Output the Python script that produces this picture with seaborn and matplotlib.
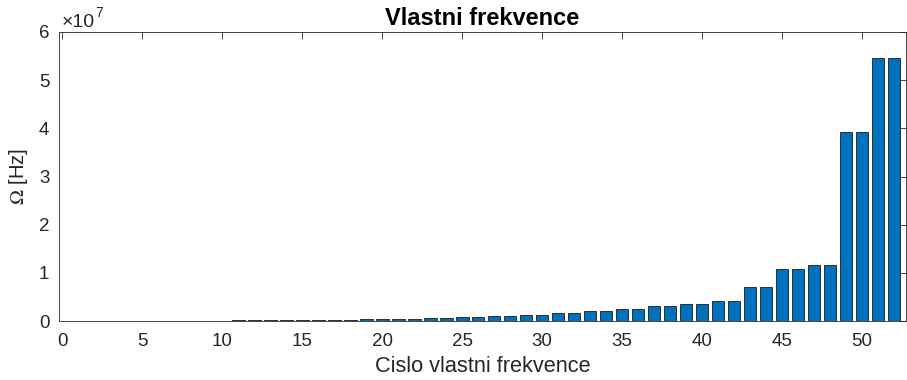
import numpy as np
import pandas as pd
import matplotlib
matplotlib.use("Agg")
import matplotlib.pyplot as plt
import matplotlib.transforms as mtransforms
import seaborn as sns
from matplotlib.ticker import FuncFormatter, MultipleLocator

# Natural frequencies, sorted ascending (Hz)
mode_index = list(range(1, 53))
freq_hz = [
    5.0e3, 5.0e3, 1.5e4, 1.5e4, 3.0e4, 3.0e4, 5.0e4, 5.0e4,
    8.0e4, 8.0e4, 1.2e5, 1.2e5, 1.7e5, 1.7e5, 2.2e5, 2.2e5,
    2.8e5, 2.8e5, 3.5e5, 3.5e5, 4.1e5, 4.1e5, 6.2e5, 6.2e5,
    7.6e5, 7.6e5, 1.10e6, 1.10e6, 1.18e6, 1.18e6, 1.60e6, 1.60e6,
    2.07e6, 2.07e6, 2.50e6, 2.50e6, 3.10e6, 3.10e6, 3.53e6, 3.53e6,
    4.15e6, 4.15e6, 7.00e6, 7.00e6, 1.07e7, 1.07e7, 1.155e7, 1.155e7,
    3.92e7, 3.92e7, 5.46e7, 5.46e7,
]
x_ticks = list(range(0, 55, 5))
title = "Vlastni frekvence"
x_label = "Cislo vlastni frekvence"
y_label = r"$\Omega$ [Hz]"

df = pd.DataFrame({"mode": mode_index, "freq": freq_hz})

sns.set_style("white")
plt.rcParams["font.family"] = ["Liberation Sans", "DejaVu Sans"]
plt.rcParams["mathtext.fontset"] = "stix"

fig = plt.figure(figsize=(9.07, 3.8), dpi=100)
ax = fig.add_axes([59 / 907, 59 / 380, (906 - 59) / 907, (321 - 32) / 380])

sns.barplot(data=df, x="mode", y="freq", native_scale=True, color="#0072BD",
            saturation=1, width=0.8, edgecolor="#1a1a1a", linewidth=0.6, ax=ax)

ax.set_xlim(-0.2, 52.75)
ax.set_ylim(0, 6e7)
ax.set_xticks(x_ticks[:11])
ax.yaxis.set_major_locator(MultipleLocator(1e7))
ax.yaxis.set_major_formatter(FuncFormatter(lambda v, p: f"{v / 1e7:g}"))

axis_col = "#262626"
for s in ax.spines.values():
    s.set_color(axis_col)
    s.set_linewidth(0.6)
    s.set_visible(True)
ax.tick_params(direction="in", length=5, width=0.6, colors=axis_col,
               labelsize=13.5, top=True, right=True)
ax.tick_params(axis="x", pad=9)
ax.tick_params(axis="y", pad=7)

ax.set_xlabel(x_label, fontsize=15.7, color=axis_col, labelpad=4)
ax.set_ylabel(y_label, fontsize=14.5, color=axis_col, labelpad=6)
ax.set_title(title, fontsize=17, fontweight="bold", color="black", pad=5)

# exponent marker for the y axis
base = mtransforms.offset_copy(ax.transAxes, fig=fig, x=3, y=5, units="dots")
ax.text(0.0, 1.0, "\u00d710", transform=base, fontsize=14,
        color=axis_col, ha="left", va="baseline")
sup = mtransforms.offset_copy(ax.transAxes, fig=fig, x=36, y=15, units="dots")
ax.text(0.0, 1.0, "7", transform=sup, fontsize=10,
        color=axis_col, ha="left", va="baseline")

fig.savefig("out.png", dpi=100)
